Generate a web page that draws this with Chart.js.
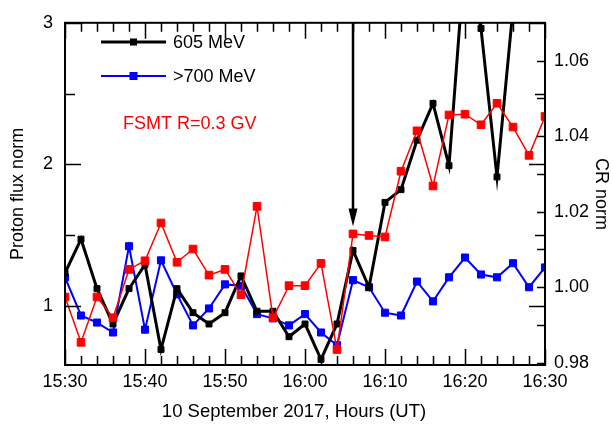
<!DOCTYPE html>
<html>
<head>
<meta charset="utf-8">
<script src="https://cdn.jsdelivr.net/npm/chart.js@4.4.1/dist/chart.umd.min.js"></script>
<style>
  html, body { margin: 0; padding: 0; background: #fff; }
</style>
</head>
<body>
<canvas id="graphCanvas" width="613" height="425"></canvas>
<script>
// data (2-minute samples)
var timeLabels = ["15:30","15:32","15:34","15:36","15:38","15:40","15:42","15:44","15:46","15:48",
                  "15:50","15:52","15:54","15:56","15:58","16:00","16:02","16:04","16:06","16:08",
                  "16:10","16:12","16:14","16:16","16:18","16:20","16:22","16:24","16:26","16:28","16:30"];
var flux605 = [1.23, 1.47, 1.12, 0.87, 1.12, 1.29, 0.69, 1.12, 0.95, 0.87,
               0.95, 1.21, 0.96, 0.96, 0.78, 0.87, 0.62, 0.87, 1.39, 1.13,
               1.73, 1.82, 2.17, 2.43, 1.99, 3.48, 2.96, 1.91, 3.10, 3.30, 3.20];
var flux700 = [1.20, 0.93, 0.88, 0.81, 1.42, 0.83, 1.32, 1.08, 0.86, 0.98,
               1.15, 1.14, 0.94, 0.91, 0.86, 0.94, 0.81, 0.72, 1.18, 1.13,
               0.95, 0.93, 1.17, 1.03, 1.20, 1.34, 1.22, 1.20, 1.30, 1.13, 1.27];
var fsmtCR = [0.9974, 0.9854, 0.9974, 0.9919, 1.0047, 1.0070, 1.0170, 1.0066, 1.0101, 1.0032,
              1.0047, 0.9980, 1.0214, 0.9919, 1.0004, 1.0004, 1.0063, 0.9835, 1.0141, 1.0137,
              1.0133, 1.0307, 1.0414, 1.0268, 1.0456, 1.0458, 1.0430, 1.0487, 1.0424, 1.0349, 1.0452];

var xTickLabels = ["15:30","15:40","15:50","16:00","16:10","16:20","16:30"];
var leftTicks = [1, 2, 3];
var rightTicks = [0.98, 1.00, 1.02, 1.04, 1.06];
var arrowTime = "16:06";
var arrowTip = 1.56;
var xTitle = '10 September 2017, Hours (UT)';

var FONT = "'Liberation Sans', Arial, sans-serif";

function toMin(t) {
    var p = t.split(":");
    return (+p[0]) * 60 + (+p[1]) - (15 * 60 + 30);
}
function fromMin(m) {
    var tot = 15 * 60 + 30 + m;
    var h = Math.floor(tot / 60), mm = tot % 60;
    return h + ":" + (mm < 10 ? "0" : "") + mm;
}
function points(vals) {
    return timeLabels.map(function (t, i) { return { x: toMin(t), y: vals[i] }; });
}

// frame, inside ticks, arrow, legend, x title
var decor = {
    id: 'decor',
    afterDatasetsDraw: function (chart) {
        var ctx = chart.ctx, ca = chart.chartArea;
        var xs = chart.scales.x, yl = chart.scales.yL, yr = chart.scales.yR;
        ctx.save();
        ctx.strokeStyle = '#000';
        ctx.lineWidth = 1.5;
        ctx.beginPath();
        // x ticks, top and bottom
        for (var m = 0; m <= 60; m += 2) {
            var px = Math.round(xs.getPixelForValue(m)) + 0.5;
            var len = (m % 10 === 0) ? 16 : 9;
            ctx.moveTo(px, ca.bottom); ctx.lineTo(px, ca.bottom - len);
            ctx.moveTo(px, ca.top); ctx.lineTo(px, ca.top + len);
        }
        // left ticks (mirrored on the right)
        for (var v = 1; v <= 3; v += 0.5) {
            var py = Math.round(yl.getPixelForValue(v)) + 0.5;
            var l2 = (v % 1 === 0) ? 16 : 10;
            ctx.moveTo(ca.left, py); ctx.lineTo(ca.left + l2, py);
            ctx.moveTo(ca.right, py); ctx.lineTo(ca.right - l2, py);
        }
        // right ticks
        for (var k = 0; k <= 8; k++) {
            var r = 0.98 + k * 0.01;
            var ry = Math.round(yr.getPixelForValue(r)) + 0.5;
            ctx.moveTo(ca.right, ry); ctx.lineTo(ca.right - 8, ry);
        }
        ctx.stroke();

        ctx.lineWidth = 2;
        ctx.strokeRect(ca.left, ca.top, ca.right - ca.left, ca.bottom - ca.top);

        // arrow
        var ax = xs.getPixelForValue(toMin(arrowTime));
        var ay = yl.getPixelForValue(arrowTip);
        ctx.lineWidth = 2.5;
        ctx.beginPath();
        ctx.moveTo(ax, ca.top);
        ctx.lineTo(ax, ay - 12);
        ctx.stroke();
        ctx.fillStyle = '#000';
        ctx.beginPath();
        ctx.moveTo(ax, ay);
        ctx.lineTo(ax - 4.5, ay - 18);
        ctx.lineTo(ax + 4.5, ay - 18);
        ctx.closePath();
        ctx.fill();

        // legend
        ctx.font = '18px ' + FONT;
        ctx.textBaseline = 'middle';
        ctx.textAlign = 'left';
        var items = [
            { y: 42, color: '#000000', lw: 3, size: 7, text: '605 MeV' },
            { y: 76, color: '#0000ff', lw: 2, size: 8, text: '>700 MeV' }
        ];
        items.forEach(function (it) {
            ctx.strokeStyle = it.color;
            ctx.fillStyle = it.color;
            ctx.lineWidth = it.lw;
            ctx.beginPath();
            ctx.moveTo(101, it.y); ctx.lineTo(166, it.y);
            ctx.stroke();
            ctx.fillRect(133.5 - it.size / 2, it.y - it.size / 2, it.size, it.size);
            ctx.fillStyle = '#000';
            ctx.fillText(it.text, 173, it.y + 1);
        });
        ctx.fillStyle = '#ff0000';
        ctx.fillText('FSMT R=0.3 GV', 123, 124);

        // x axis title (sits left of the plot centre in the original)
        ctx.fillStyle = '#000';
        ctx.font = '18.5px ' + FONT;
        ctx.textAlign = 'center';
        ctx.fillText(xTitle, 294, 412);
        ctx.restore();
    }
};

var chartdata = {
    datasets: [{
        label: 'FSMT R=0.3 GV',
        data: points(fsmtCR),
        yAxisID: 'yR',
        borderColor: '#ff0000',
        backgroundColor: '#ff0000',
        borderWidth: 1.5,
        pointStyle: 'rect',
        pointRadius: 5.4,
        pointBorderWidth: 1,
        clip: 0
    }, {
        label: '605 MeV',
        data: points(flux605),
        yAxisID: 'yL',
        borderColor: '#000000',
        backgroundColor: '#000000',
        borderWidth: 3,
        pointStyle: 'rect',
        pointRadius: 4.2,
        pointBorderWidth: 1,
        clip: 0
    }, {
        label: '>700 MeV',
        data: points(flux700),
        yAxisID: 'yL',
        borderColor: '#0000ff',
        backgroundColor: '#0000ff',
        borderWidth: 2,
        pointStyle: 'rect',
        pointRadius: 5,
        pointBorderWidth: 1,
        clip: 0
    }]
};

var graphTarget = document.getElementById('graphCanvas');

var lineGraph = new Chart(graphTarget, {
    type: 'line',
    data: chartdata,
    plugins: [decor],
    options: {
        responsive: false,
        animation: false,
        devicePixelRatio: 1,
        layout: { padding: { top: 13, left: 0, right: 0, bottom: 0 } },
        plugins: { legend: { display: false }, tooltip: { enabled: false } },
        elements: { line: { tension: 0 } },
        scales: {
            x: {
                type: 'linear',
                min: 0,
                max: 60,
                afterFit: function (s) { s.height = 60; },
                afterBuildTicks: function (s) {
                    s.ticks = xTickLabels.map(function (t) { return { value: toMin(t) }; });
                },
                grid: { display: false, drawTicks: false },
                border: { display: false },
                ticks: {
                    padding: 6,
                    maxRotation: 0,
                    autoSkip: false,
                    color: '#000',
                    font: { family: FONT, size: 18 },
                    callback: function (v) { return fromMin(v); }
                },
                title: { display: false }
            },
            yL: {
                type: 'linear',
                position: 'left',
                min: 0.58,
                max: 3,
                afterFit: function (s) { s.width = 65; },
                afterBuildTicks: function (s) {
                    s.ticks = leftTicks.map(function (v) { return { value: v }; });
                },
                grid: { display: false, drawTicks: false },
                border: { display: false },
                ticks: {
                    padding: 12,
                    color: '#000',
                    font: { family: FONT, size: 18 },
                    callback: function (v) { return String(v); }
                },
                title: {
                    display: true,
                    text: 'Proton flux norm',
                    color: '#000',
                    font: { family: FONT, size: 18 },
                    padding: { top: 7, bottom: 0 }
                }
            },
            yR: {
                type: 'linear',
                position: 'right',
                min: 0.9794,
                max: 1.07,
                afterFit: function (s) { s.width = 68; },
                afterBuildTicks: function (s) {
                    s.ticks = rightTicks.map(function (v) { return { value: v }; });
                },
                grid: { display: false, drawTicks: false },
                border: { display: false },
                ticks: {
                    padding: 9,
                    color: '#000',
                    font: { family: FONT, size: 18 },
                    callback: function (v) { return v.toFixed(2); }
                },
                title: {
                    display: true,
                    text: 'CR norm',
                    color: '#000',
                    font: { family: FONT, size: 18 },
                    padding: { top: 1, bottom: 0 }
                }
            }
        }
    }
});
</script>
</body>
</html>
